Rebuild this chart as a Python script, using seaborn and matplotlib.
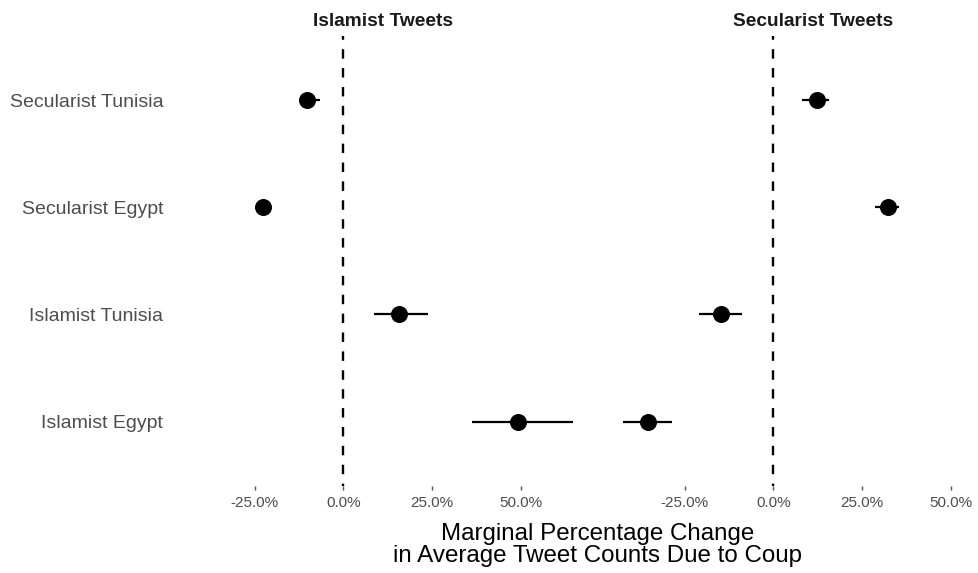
import matplotlib
matplotlib.use("Agg")
import matplotlib.pyplot as plt
from matplotlib.ticker import FuncFormatter, FixedLocator
import seaborn as sns
import pandas as pd

# Groups, bottom to top
groups = ["Islamist Egypt", "Islamist Tunisia", "Secularist Egypt", "Secularist Tunisia"]
panels = ["Islamist Tweets", "Secularist Tweets"]

# Marginal % change (point estimate and interval), per panel, in group order
islamist_est = [49.0, 15.6, -22.5, -10.1]
islamist_lo = [36.1, 8.6, -23.6, -12.4]
islamist_hi = [64.7, 23.7, -21.4, -6.7]

secularist_est = [-35.3, -14.7, 32.2, 12.3]
secularist_lo = [-42.2, -21.0, 28.7, 8.0]
secularist_hi = [-28.6, -8.7, 35.3, 15.7]

x_ticks = [-25, 0, 25, 50]

df = pd.DataFrame({
    "panel": [panels[0]] * 4 + [panels[1]] * 4,
    "group": groups * 2,
    "est": islamist_est + secularist_est,
    "lo": islamist_lo + secularist_lo,
    "hi": islamist_hi + secularist_hi,
})

sns.set_theme(style="white")
plt.rcParams["font.family"] = ["Liberation Sans", "DejaVu Sans"]

fig = plt.figure(figsize=(9.79, 5.73), dpi=100)
W, H = 979, 573
panel_h = (486 - 35.7)
y0 = (H - 486) / H
axes = [
    fig.add_axes([174.4 / W, y0, 417.9 / W, panel_h / H]),
    fig.add_axes([604.4 / W, y0, 417.9 / W, panel_h / H]),
]

# shared x range across facets
lo_all = df["lo"].min()
hi_all = df["hi"].max()
pad = (hi_all - lo_all) * 0.05
xlim = (lo_all - pad, hi_all + pad)

for ax, panel in zip(axes, panels):
    sub = df[df["panel"] == panel].set_index("group").loc[groups].reset_index()
    ax.axvline(0, color="black", lw=1.7, ls=(3, (4, 4)), zorder=1)
    ax.hlines(sub["group"], sub["lo"], sub["hi"], color="black", lw=1.6, zorder=2)
    sns.scatterplot(data=sub, x="est", y="group", ax=ax, color="black",
                    s=150, edgecolor="black", linewidth=0, zorder=3, legend=False)
    ax.set_xlim(*xlim)
    ax.set_ylim(-0.6, len(groups) - 0.4)
    ax.xaxis.set_major_locator(FixedLocator(x_ticks))
    ax.xaxis.set_major_formatter(FuncFormatter(lambda v, p: f"{v:.1f}%"))
    ax.tick_params(axis="x", labelsize=11, labelcolor="#4d4d4d", length=3,
                   width=1, color="#555555", pad=4, bottom=True)
    ax.tick_params(axis="y", labelsize=14, labelcolor="#4d4d4d", length=0, pad=8)
    for s in ax.spines.values():
        s.set_visible(False)
    ax.grid(False)
    ax.set_xlabel("")
    ax.set_ylabel("")
    ax.set_title(panel, fontsize=13.8, fontweight="bold", color="#1a1a1a", pad=7)

axes[1].set_yticklabels([])

fig.text(598 / W, 1 - 545 / H, "Marginal Percentage Change\nin Average Tweet Counts Due to Coup",
         ha="center", va="center", fontsize=17.4, color="black", linespacing=1.05)

fig.savefig("out.png", dpi=100)
